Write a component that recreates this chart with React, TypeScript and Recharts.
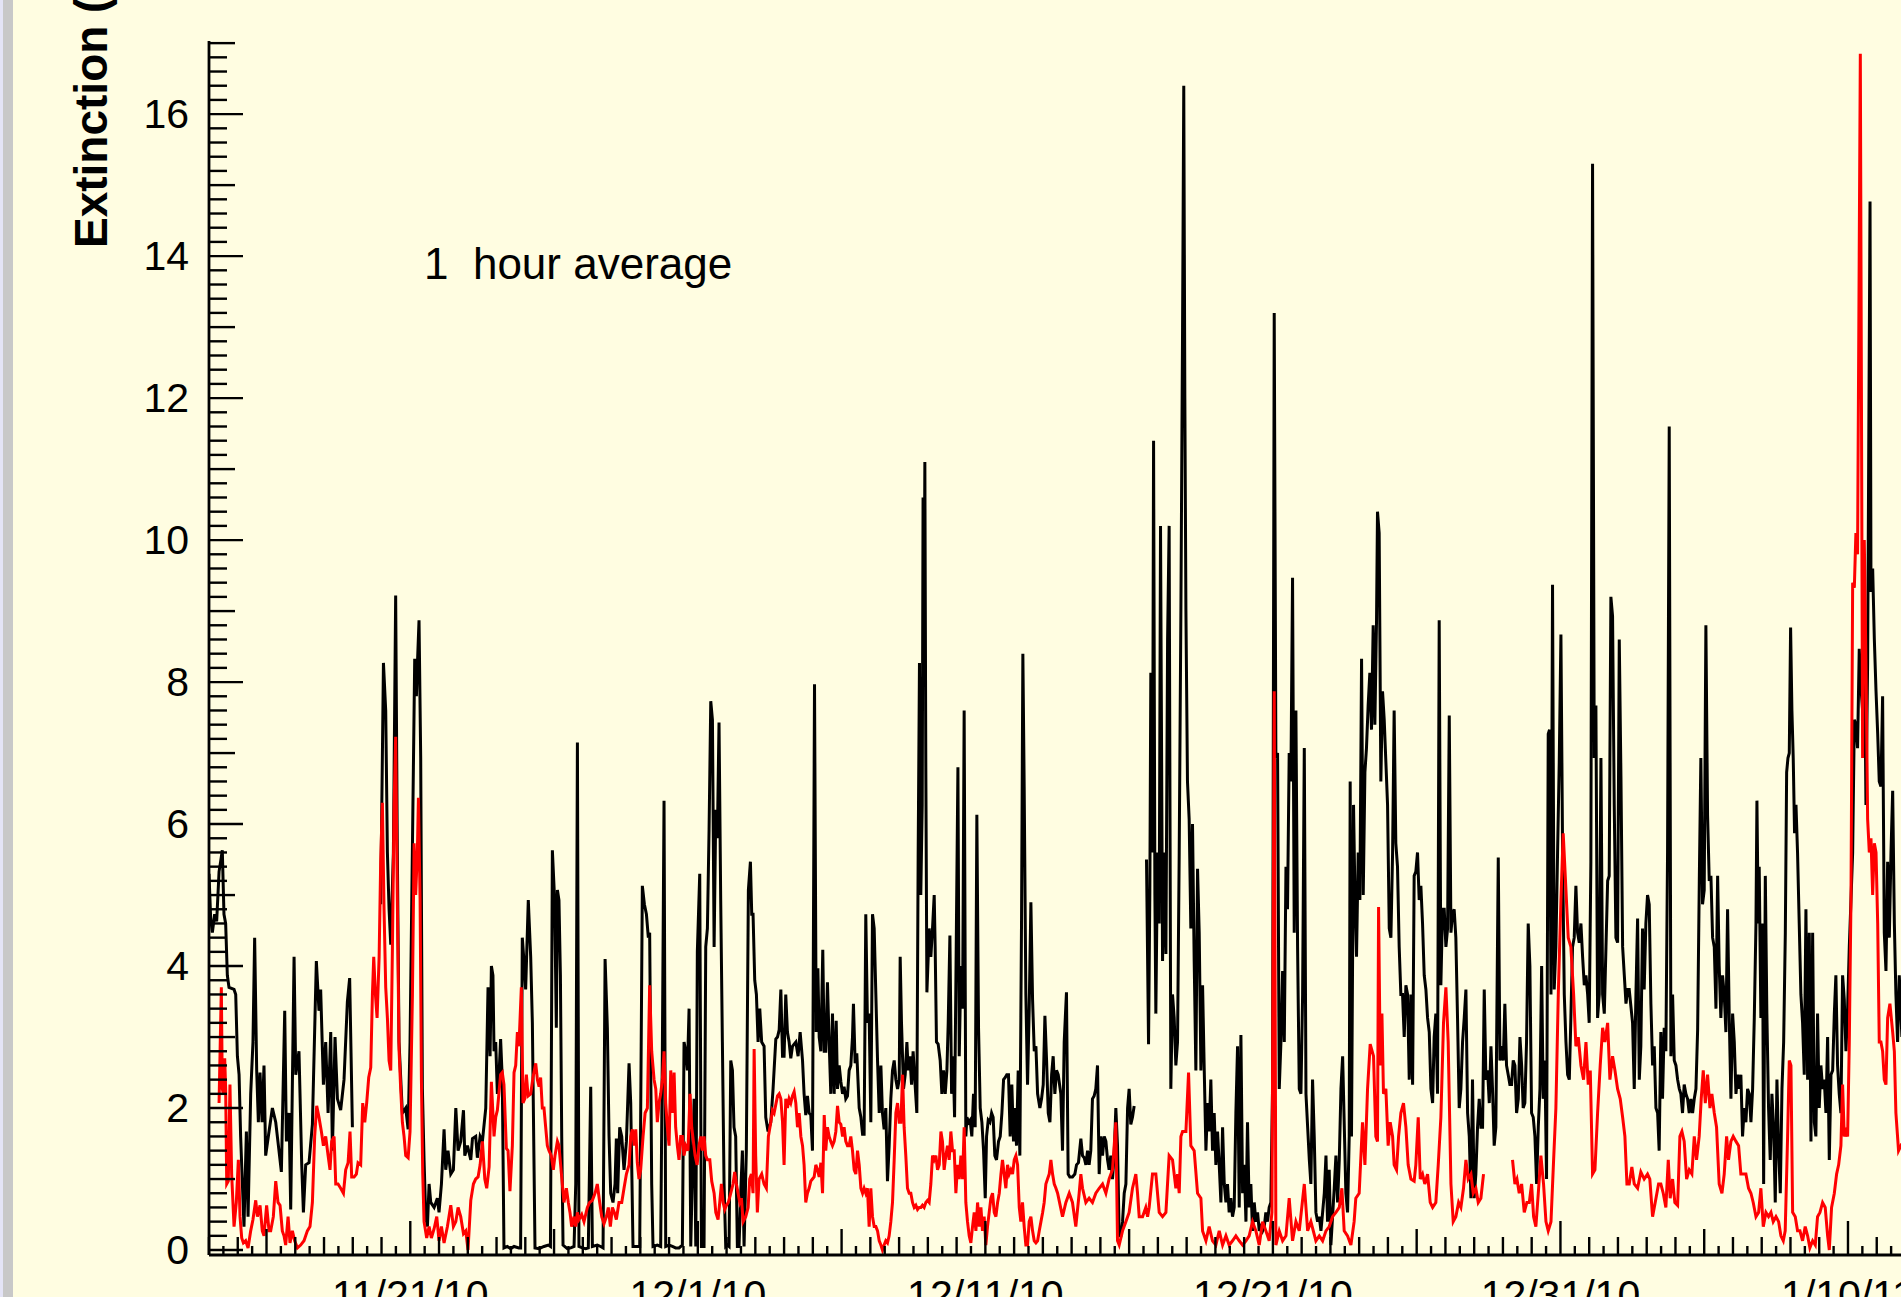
import { LineChart, Line, XAxis, YAxis } from 'recharts';

// hours since 11/14/10 00:00 -> extinction, 1 hour average (null = no data)
const blackReadings: [number, number | null][] = [
  [0, 5.3], [1.4, 4.67], [2.8, 4.47], [4.7, 4.73], [6.4, 4.63], [8.4, 5.33], [9.7, 5.47], [11.1, 5.63], [12.5, 4.73], [13.9, 4.6],
  [15.3, 3.87], [16.7, 3.7], [20.9, 3.67], [22.3, 3.6], [23.7, 2.73], [25.1, 2.47], [26.4, 1.6], [29.2, 0.33], [31.2, 1.67], [32.6, 0.47],
  [34.8, 2.2], [36.7, 2.93], [38.1, 4.4], [39.8, 2.53], [41.2, 1.8], [42.6, 2.5], [44.3, 1.8], [45.9, 2.6], [47.3, 1.33], [50.1, 1.67],
  [52.9, 2.0], [55.7, 1.8], [58.4, 1.4], [60.4, 1.1], [63.2, 3.37], [64.6, 1.53], [66.8, 1.93], [68.2, 0.57], [71.0, 4.13], [72.4, 2.47],
  [75.1, 2.8], [77.4, 1.2], [78.8, 0.53], [80.7, 1.2], [83.5, 1.23], [86.3, 1.77], [89.6, 4.07], [91.8, 3.37], [93.2, 3.67], [95.5, 2.33],
  [97.4, 2.93], [99.4, 1.93], [101.6, 3.07], [103.0, 1.4], [105.2, 3.0], [107.2, 2.13], [109.9, 1.97], [112.7, 2.4], [115.5, 3.5], [117.4, 3.83],
  [119.7, 1.73], [131, null],
  [143.3, 4.87], [145.6, 8.27], [147.5, 7.6], [148.9, 5.6], [150.3, 4.8], [151.7, 4.3], [153.9, 5.6], [155.8, 9.22], [157.2, 5.6], [158.6, 2.93],
  [161.4, 1.93], [164.2, 2.0], [166.2, 1.7], [167.8, 2.93], [170.6, 6.8], [171.7, 8.33], [173.1, 7.8], [174.0, 8.27], [175.3, 8.87], [176.7, 6.93],
  [178.1, 2.27], [179.5, 1.27], [180.9, 0.47], [182.3, 0.33], [183.7, 0.93], [185.1, 0.67], [187.9, 0.6], [190.6, 0.73], [192.0, 0.53], [194.0, 0.93],
  [196.2, 1.7], [197.6, 1.13], [199.5, 1.4], [201.8, 1.07], [204.0, 1.13], [206.0, 2.0], [207.9, 1.4], [210.1, 1.53], [212.4, 1.97], [213.5, 1.33],
  [215.7, 1.47], [218.5, 1.27], [219.9, 1.57], [222.6, 1.6], [224.0, 1.3], [226.3, 1.6], [228.2, 1.53], [231.0, 2.0], [232.9, 3.7], [234.6, 2.73],
  [235.7, 4.0], [237.0, 3.87], [237.9, 2.8], [239.3, 2.93], [240.7, 2.2], [242.1, 2.47], [243.4, 2.97], [244.8, 2.4], [246.2, 0.03], [249.0, 0.05],
  [251.8, 0.02], [254.6, 0.05], [258.7, 0.03], [260.1, 0.03], [261.5, 4.4], [262.9, 4.07], [264.3, 3.67], [266.5, 4.93], [268.5, 4.13], [269.9, 3.2],
  [272.1, 0.03], [275.5, 0.02], [279.6, 0.05], [283.2, 0.07], [285.0, 0.05], [286.6, 5.63], [288.5, 4.93], [289.9, 3.13], [290.8, 5.07], [292.1, 4.93],
  [293.3, 3.87], [294.4, 1.6], [295.5, 0.07], [299.1, 0.02], [301.9, 0.03], [304.7, 0.05], [306.1, 0.93], [307.5, 7.15], [308.8, 0.05], [311.6, 0.03],
  [314.4, 0.02], [316.6, 0.03], [318.6, 2.3], [320.0, 0.05], [324.1, 0.07], [326.9, 0.05], [328.9, 0.03], [330.6, 4.1], [332.5, 3.13], [333.9, 1.6],
  [335.3, 0.8], [337.2, 0.67], [338.9, 0.93], [340.0, 1.57], [341.1, 0.8], [342.8, 1.73], [344.5, 1.6], [346.4, 1.13], [348.4, 1.53], [350.6, 2.63],
  [352.0, 2.07], [353.9, 0.05], [356.2, 0.05], [359.5, 0.05], [361.7, 5.13], [363.4, 4.87], [365.1, 4.73], [366.7, 4.4], [367.8, 4.47], [369.5, 0.93],
  [370.6, 0.05], [374.2, 0.07], [377.0, 0.05], [378.4, 2.8], [379.8, 6.33], [381.2, 0.05], [384.0, 0.07], [386.8, 0.05], [389.5, 0.03], [392.3, 0.03],
  [395.1, 0.07], [396.5, 2.93], [397.9, 2.8], [399.3, 2.53], [400.7, 3.4], [402.1, 0.05], [404.9, 2.13], [406.3, 0.05], [407.6, 4.2], [409.6, 5.3],
  [411.0, 0.05], [413.2, 0.05], [414.6, 4.27], [416.0, 4.53], [417.4, 5.93], [418.8, 7.73], [420.2, 7.47], [421.6, 4.27], [423.0, 6.2], [424.3, 5.8],
  [425.7, 7.43], [427.1, 4.93], [428.5, 2.93], [429.9, 0.93], [431.3, 0.05], [432.7, 0.07], [434.1, 0.05], [435.5, 2.67], [436.9, 2.53], [438.2, 1.73],
  [439.6, 1.6], [441.0, 0.05], [442.4, 0.05], [443.8, 0.8], [445.2, 1.4], [446.6, 0.05], [448.5, 1.4], [450.2, 5.07], [451.9, 5.47], [453.0, 4.73],
  [454.1, 4.73], [455.5, 3.8], [456.9, 3.6], [458.3, 2.93], [459.7, 3.4], [461.3, 2.93], [463.3, 2.87], [464.7, 1.87], [466.6, 1.67], [468.9, 1.8],
  [470.8, 2.27], [473.1, 2.97], [474.5, 3.0], [475.9, 3.1], [477.3, 3.67], [478.7, 2.73], [480.0, 2.73], [481.4, 3.6], [482.8, 3.07], [484.2, 2.93],
  [485.6, 2.7], [487.0, 2.87], [488.4, 2.9], [489.8, 2.93], [491.7, 2.73], [493.4, 3.07], [495.4, 2.67], [496.7, 2.2], [498.1, 1.9], [499.5, 2.17],
  [500.9, 1.93], [502.3, 1.9], [503.7, 1.4], [505.4, 7.97], [506.8, 3.07], [508.2, 3.97], [509.3, 3.0], [510.7, 2.8], [512.3, 4.23], [513.5, 2.8],
  [514.8, 2.8], [516.2, 3.77], [517.6, 2.93], [519.0, 2.2], [520.4, 3.33], [521.8, 2.2], [523.5, 3.23], [524.6, 2.27], [526.0, 2.6], [527.4, 2.37],
  [528.8, 2.2], [530.1, 2.3], [531.5, 2.13], [532.9, 2.17], [534.3, 2.53], [535.7, 2.6], [537.1, 3.0], [537.9, 3.47], [539.3, 2.63], [540.7, 2.77],
  [542.7, 2.0], [544.1, 1.87], [545.5, 1.63], [546.8, 1.63], [548.2, 4.73], [549.6, 3.2], [551.0, 3.33], [552.4, 1.8], [553.8, 4.73], [555.2, 4.53],
  [556.6, 3.6], [558.0, 2.67], [559.4, 1.93], [560.8, 2.6], [562.1, 1.93], [563.5, 1.7], [564.9, 2.0], [566.3, 0.97], [567.7, 1.47], [569.1, 2.13],
  [570.5, 2.53], [571.9, 2.67], [573.3, 2.4], [574.7, 2.27], [576.1, 2.4], [576.9, 4.13], [578.0, 3.2], [579.7, 2.27], [581.1, 2.47], [582.5, 2.93],
  [583.6, 2.53], [585.0, 2.73], [586.4, 2.33], [587.7, 2.8], [589.1, 2.4], [590.8, 1.93], [591.9, 5.53], [593.0, 8.27], [594.1, 5.0], [595.3, 6.27],
  [596.0, 10.6], [596.7, 8.0], [597.5, 11.1], [598.3, 6.8], [599.2, 3.63], [600.3, 4.13], [601.1, 4.53], [602.5, 4.13], [603.9, 4.53], [605.3, 5.0],
  [606.1, 4.27], [607.2, 2.93], [608.6, 2.9], [610.3, 2.67], [611.7, 2.2], [613.1, 2.53], [614.5, 2.2], [615.9, 2.53], [617.0, 3.2], [618.4, 4.43],
  [619.8, 2.2], [621.1, 2.73], [622.3, 1.87], [623.6, 4.13], [625.1, 6.8], [626.2, 2.73], [627.6, 4.0], [629.0, 3.4], [630.3, 7.6], [631.7, 1.6],
  [632.6, 1.87], [634.0, 1.8], [635.3, 1.83], [636.7, 1.6], [638.1, 2.2], [639.5, 1.73], [640.9, 6.13], [642.3, 3.13], [643.7, 2.0], [645.1, 1.8],
  [646.5, 1.4], [647.9, 0.73], [649.0, 1.6], [650.4, 1.83], [651.8, 1.8], [653.2, 1.93], [654.5, 1.87], [655.9, 1.33], [657.3, 1.27], [659.0, 1.53],
  [660.4, 1.6], [661.8, 1.93], [663.2, 2.4], [664.6, 2.43], [665.9, 2.47], [667.3, 2.47], [668.7, 1.6], [670.1, 2.33], [671.5, 1.53], [672.6, 2.0],
  [674.0, 1.47], [675.4, 2.53], [676.8, 1.33], [678.2, 4.67], [679.3, 8.4], [680.4, 6.53], [681.8, 3.6], [683.2, 2.33], [684.6, 3.4], [686.0, 4.9],
  [687.4, 3.53], [688.8, 2.8], [690.2, 2.87], [691.6, 2.2], [693.5, 2.0], [694.9, 2.13], [696.3, 2.33], [697.7, 3.3], [699.1, 2.67], [700.5, 1.93],
  [701.9, 1.8], [703.3, 2.47], [704.6, 2.73], [706.0, 2.2], [707.4, 2.53], [708.8, 2.47], [711.0, 2.2], [712.4, 1.4], [713.8, 2.93], [715.7, 3.63],
  [717.1, 1.07], [718.5, 1.03], [720.7, 1.03], [722.7, 1.07], [724.1, 1.2], [725.7, 1.23], [727.7, 1.57], [729.1, 1.33], [730.5, 1.3], [731.9, 1.2],
  [733.3, 1.4], [734.6, 1.2], [736.0, 1.4], [737.4, 2.13], [738.8, 2.17], [740.2, 2.27], [741.6, 2.6], [743.0, 1.07], [744.4, 1.6], [745.8, 1.33],
  [747.2, 1.6], [748.6, 1.53], [750.0, 1.27], [751.3, 1.13], [752.7, 1.33], [754.1, 1.0], [755.5, 1.33], [756.9, 2.0], [758.3, 1.47], [759.7, 0.2],
  [761.1, 0.2], [762.5, 0.4], [763.9, 0.8], [765.3, 0.93], [766.7, 2.0], [768.0, 2.27], [769.4, 1.77], [770.8, 1.87], [772.2, 2.03], [777, null],
  [782.5, 5.5], [784.2, 2.9], [785.3, 5.07], [786.1, 8.13], [787.5, 5.6], [788.4, 11.4], [789.5, 5.0], [790.3, 3.33], [791.7, 5.6], [793.1, 4.6],
  [794.2, 10.2], [795.9, 4.07], [797.3, 5.6], [798.7, 4.17], [800.1, 8.6], [801.4, 10.2], [802.8, 2.27], [804.2, 3.6], [805.6, 3.27], [807.0, 2.6],
  [808.4, 2.93], [809.8, 5.6], [811.2, 9.0], [812.6, 13.0], [813.6, 16.4], [814.5, 12.0], [815.4, 9.0], [816.7, 6.6], [818.1, 6.07], [819.5, 4.53],
  [820.9, 6.0], [822.3, 4.07], [823.7, 2.53], [825.1, 5.37], [826.5, 4.47], [827.9, 2.53], [829.3, 3.73], [830.7, 2.53], [832.1, 1.4], [833.5, 2.07],
  [834.8, 1.67], [836.2, 2.4], [837.6, 1.4], [839.0, 1.93], [840.4, 1.2], [841.8, 1.67], [843.2, 1.2], [844.6, 0.67], [846.0, 1.73], [847.4, 0.93],
  [848.8, 0.67], [850.1, 0.93], [851.5, 0.53], [852.9, 0.73], [854.3, 0.47], [855.7, 0.6], [857.1, 1.93], [858.5, 2.87], [859.9, 0.6], [861.3, 3.03],
  [862.7, 0.8], [864.1, 1.2], [865.5, 0.4], [866.8, 1.8], [868.2, 0.6], [869.6, 0.93], [871.0, 0.27], [872.4, 0.67], [873.8, 0.4], [875.2, 0.53],
  [876.6, 0.27], [878.0, 0.33], [879.4, 0.27], [880.8, 0.33], [882.1, 0.53], [883.5, 0.4], [884.9, 0.6], [886.3, 0.67], [887.7, 2.27], [889.1, 13.2],
  [890.5, 6.93], [891.9, 7.0], [893.3, 2.27], [894.7, 2.93], [896.1, 3.93], [897.5, 2.93], [898.9, 5.4], [900.2, 4.8], [901.6, 7.0], [903.0, 6.6],
  [904.4, 9.47], [905.8, 4.47], [907.2, 7.6], [908.6, 4.27], [910.0, 2.27], [911.4, 2.2], [912.8, 3.6], [914.2, 7.07], [915.6, 2.2], [917.0, 1.73],
  [918.4, 1.27], [919.7, 0.93], [921.1, 2.4], [922.5, 1.6], [923.9, 0.53], [925.3, 0.4], [926.7, 0.47], [928.1, 0.27], [929.5, 0.53], [930.9, 0.8],
  [932.3, 1.33], [933.6, 0.4], [935.0, 1.13], [936.4, 0.07], [937.8, 0.47], [939.2, 0.87], [940.6, 1.33], [942.0, 0.67], [943.4, 1.27], [944.8, 2.27],
  [946.2, 2.73], [948.9, 0.8], [950.3, 0.53], [951.7, 1.6], [952.5, 6.6], [953.6, 1.6], [955.3, 6.27], [956.4, 5.07], [957.8, 4.13], [959.2, 5.6],
  [960.6, 4.93], [962.0, 8.33], [963.4, 5.0], [964.8, 6.73], [966.1, 7.07], [967.5, 7.67], [968.9, 8.13], [970.3, 7.33], [971.7, 8.8], [973.1, 7.4],
  [974.5, 8.87], [975.3, 10.4], [976.7, 10.1], [978.1, 6.6], [979.5, 7.87], [980.9, 7.47], [982.3, 6.87], [983.7, 6.27], [985.1, 4.53], [986.5, 4.4],
  [987.9, 5.6], [989.2, 7.6], [990.6, 5.73], [992.0, 5.4], [993.4, 4.27], [994.8, 3.6], [996.2, 3.6], [997.6, 3.0], [999.0, 3.73], [1000.4, 3.6],
  [1001.8, 2.4], [1003.2, 3.6], [1004.6, 2.33], [1005.9, 5.27], [1007.3, 5.33], [1008.7, 5.6], [1010.1, 4.93], [1011.5, 5.13], [1012.9, 4.6], [1014.3, 3.87],
  [1015.7, 3.67], [1017.1, 3.27], [1018.5, 3.07], [1019.9, 2.27], [1021.3, 2.07], [1022.6, 3.0], [1024.0, 3.33], [1025.4, 2.2], [1026.8, 8.87], [1028.2, 3.73],
  [1029.6, 4.8], [1031.0, 4.8], [1032.4, 4.27], [1033.8, 4.53], [1035.2, 7.53], [1036.6, 4.47], [1037.9, 4.73], [1039.3, 4.8], [1040.7, 4.4], [1042.1, 3.27],
  [1043.5, 2.0], [1044.9, 2.27], [1046.3, 2.93], [1047.7, 3.27], [1049.1, 3.67], [1050.5, 1.93], [1051.9, 1.6], [1053.3, 0.73], [1054.6, 2.4], [1056.0, 0.73],
  [1057.4, 1.07], [1058.8, 1.73], [1060.2, 2.13], [1061.6, 1.73], [1063.0, 1.73], [1064.4, 3.67], [1065.8, 2.4], [1067.2, 2.53], [1068.6, 2.07], [1070.0, 2.87],
  [1071.3, 2.27], [1072.7, 1.47], [1074.1, 1.73], [1076.1, 5.53], [1077.5, 2.67], [1078.9, 2.87], [1080.3, 2.67], [1081.6, 3.47], [1083.0, 2.6], [1084.4, 2.47],
  [1085.8, 2.33], [1087.2, 2.33], [1088.6, 2.67], [1090.0, 2.6], [1091.4, 1.93], [1092.8, 2.13], [1094.2, 3.0], [1095.6, 2.6], [1096.9, 2.0], [1098.3, 2.07],
  [1099.7, 2.93], [1101.1, 4.6], [1102.5, 4.0], [1103.9, 1.93], [1105.3, 1.87], [1106.7, 1.6], [1108.1, 0.93], [1109.5, 1.73], [1110.9, 2.27], [1112.3, 4.0],
  [1113.6, 2.13], [1115.0, 2.67], [1116.4, 1.0], [1117.8, 7.27], [1118.9, 7.33], [1120.1, 3.6], [1121.4, 9.37], [1122.8, 3.67], [1124.2, 4.27], [1125.6, 5.6],
  [1127.0, 6.87], [1128.4, 8.67], [1129.8, 5.6], [1131.2, 3.6], [1132.6, 2.93], [1134.0, 2.47], [1135.4, 2.4], [1136.7, 3.27], [1138.1, 4.27], [1139.5, 4.4],
  [1140.9, 5.13], [1142.3, 4.47], [1143.7, 4.33], [1145.1, 4.6], [1146.5, 4.13], [1147.9, 3.73], [1149.3, 3.87], [1150.7, 3.6], [1152.0, 3.2], [1153.4, 5.47],
  [1154.8, 15.3], [1156.2, 6.93], [1157.6, 7.67], [1159.0, 3.27], [1160.4, 3.6], [1161.8, 6.93], [1163.2, 3.6], [1164.6, 3.33], [1166.0, 4.27], [1167.4, 5.2],
  [1168.7, 5.27], [1170.1, 9.2], [1171.5, 8.93], [1172.9, 6.27], [1174.3, 4.4], [1175.7, 4.33], [1177.1, 8.6], [1178.5, 6.67], [1179.9, 4.27], [1181.3, 3.87],
  [1182.7, 3.47], [1184.1, 3.67], [1185.4, 3.67], [1188.2, 3.2], [1189.6, 2.27], [1191.0, 3.6], [1192.4, 4.67], [1193.8, 2.4], [1195.1, 2.87], [1196.5, 4.53],
  [1197.9, 3.67], [1199.3, 4.6], [1200.7, 5.0], [1202.1, 4.87], [1203.5, 3.47], [1204.9, 2.6], [1206.3, 2.87], [1207.7, 2.0], [1209.1, 1.93], [1210.4, 1.4],
  [1211.8, 3.07], [1213.2, 2.13], [1214.6, 3.13], [1216.0, 2.8], [1217.4, 5.6], [1218.8, 11.6], [1220.2, 2.73], [1221.6, 3.6], [1223.0, 2.67], [1224.4, 2.6],
  [1225.8, 2.4], [1227.2, 2.27], [1228.5, 2.2], [1229.9, 1.93], [1231.3, 2.33], [1232.7, 2.2], [1234.1, 2.13], [1235.5, 1.93], [1236.9, 2.13], [1238.3, 1.93],
  [1239.7, 2.13], [1241.1, 2.27], [1242.5, 3.1], [1243.9, 5.2], [1245.2, 6.93], [1246.6, 4.87], [1248.0, 5.07], [1249.4, 8.8], [1250.8, 6.13], [1252.2, 5.2],
  [1253.6, 5.27], [1255.0, 4.4], [1256.4, 4.27], [1257.8, 3.4], [1259.2, 5.27], [1260.5, 4.0], [1261.9, 3.27], [1263.3, 3.87], [1264.7, 3.6], [1266.1, 3.07],
  [1267.5, 4.8], [1268.9, 3.27], [1270.3, 2.13], [1271.7, 3.33], [1273.1, 2.93], [1274.5, 2.2], [1275.9, 2.47], [1277.2, 2.27], [1278.6, 2.47], [1280.0, 1.6],
  [1281.4, 2.0], [1282.8, 1.8], [1284.2, 2.27], [1285.6, 2.2], [1287.0, 1.8], [1288.4, 2.27], [1289.8, 3.27], [1291.2, 4.6], [1292.0, 6.33], [1293.1, 4.6],
  [1293.9, 5.4], [1295.3, 3.27], [1296.7, 4.6], [1297.6, 0.93], [1299.0, 5.27], [1300.3, 3.33], [1301.7, 2.0], [1303.1, 1.27], [1304.5, 2.2], [1305.9, 1.73],
  [1307.3, 0.67], [1308.7, 2.4], [1310.1, 1.4], [1311.5, 0.8], [1312.9, 2.27], [1314.3, 2.93], [1315.7, 4.47], [1316.8, 6.73], [1317.9, 6.93], [1319.0, 7.0],
  [1320.1, 8.77], [1321.2, 7.6], [1322.3, 6.93], [1323.4, 5.87], [1324.6, 6.27], [1325.9, 5.6], [1327.3, 4.6], [1328.7, 3.6], [1330.1, 3.2], [1331.5, 2.47],
  [1332.9, 4.8], [1334.3, 2.4], [1335.7, 4.47], [1337.1, 1.53], [1338.5, 4.47], [1339.9, 1.8], [1341.2, 1.6], [1342.6, 3.33], [1344.0, 2.0], [1345.4, 2.6],
  [1346.8, 2.27], [1348.2, 2.4], [1349.6, 1.93], [1351.0, 3.0], [1352.4, 1.27], [1353.8, 2.47], [1355.2, 2.53], [1356.6, 3.33], [1357.9, 3.87], [1359.3, 2.6],
  [1360.7, 2.2], [1362.1, 1.93], [1363.5, 3.87], [1364.9, 3.53], [1366.3, 2.8], [1367.7, 3.4], [1369.1, 4.27], [1370.5, 4.93], [1371.9, 5.6], [1373.3, 7.47],
  [1374.6, 7.4], [1376.0, 7.07], [1377.4, 8.47], [1378.8, 7.93], [1380.2, 7.6], [1381.6, 8.93], [1383.0, 6.27], [1384.4, 8.27], [1386.4, 14.77], [1387.2, 9.27],
  [1388.6, 9.6], [1390.0, 8.6], [1391.4, 7.87], [1392.8, 7.27], [1394.1, 6.6], [1395.5, 6.53], [1396.9, 7.8], [1398.3, 4.47], [1399.7, 3.93], [1401.1, 5.47],
  [1402.5, 4.4], [1403.9, 5.6], [1405.3, 6.47], [1406.7, 4.6], [1408.0, 3.6], [1409.4, 2.93], [1410.8, 3.87], [1413.0, 3.0],
];

const redReadings: [number, number | null][] = [
  [8.4, 2.07], [10.3, 3.7], [11.1, 2.27], [12.0, 2.2], [13.1, 2.7], [13.9, 2.27], [14.8, 0.93], [16.1, 0.97], [17.5, 2.33], [18.9, 1.07],
  [20.9, 0.33], [22.8, 0.67], [24.5, 1.27], [25.9, 0.47], [27.3, 0.17], [28.7, 0.1], [30.6, 0.13], [32.6, 0.03], [34.8, 0.27], [36.7, 0.43],
  [39.0, 0.7], [40.4, 0.47], [42.6, 0.63], [44.5, 0.27], [45.9, 0.2], [48.1, 0.63], [50.1, 0.27], [51.5, 0.27], [53.7, 0.47], [55.7, 0.97],
  [57.6, 0.67], [59.3, 0.63], [61.2, 0.27], [62.6, 0.2], [64.0, 0.07], [66.0, 0.47], [67.6, 0.1], [69.6, 0.27], [71.5, 0.13], [73.8, 0.03],
  [76.5, 0.07], [79.3, 0.13], [82.1, 0.27], [84.3, 0.33], [86.3, 0.67], [88.2, 1.6], [89.9, 2.03], [91.8, 1.87], [93.8, 1.67], [95.5, 1.47],
  [97.4, 1.6], [99.4, 1.33], [101.0, 1.13], [102.4, 1.53], [104.4, 1.6], [105.8, 0.93], [107.7, 0.93], [109.9, 0.87], [112.2, 0.8], [114.1, 1.13],
  [116.1, 1.23], [117.7, 1.67], [119.1, 1.03], [121.1, 1.03], [123.0, 1.07], [124.4, 1.23], [126.6, 1.2], [128.3, 2.07], [130.0, 1.8], [131.6, 2.07],
  [133.3, 2.43], [135.0, 2.57], [136.4, 3.6], [137.5, 4.13], [138.9, 3.6], [140.3, 3.27], [142.0, 4.13], [143.3, 5.47], [144.7, 6.3], [146.1, 4.8],
  [147.5, 3.7], [148.9, 3.27], [150.3, 2.67], [151.7, 2.53], [153.1, 4.27], [154.5, 6.27], [155.8, 7.23], [157.2, 4.93], [158.6, 2.83], [160.0, 2.27],
  [161.4, 1.8], [162.8, 1.6], [164.2, 1.33], [166.2, 1.3], [167.8, 1.67], [169.8, 3.6], [171.2, 5.73], [172.5, 5.0], [173.9, 5.6], [174.8, 6.37],
  [176.2, 4.93], [177.3, 2.4], [178.4, 1.07], [179.5, 0.4], [181.7, 0.17], [183.7, 0.33], [185.6, 0.17], [187.9, 0.3], [190.1, 0.47], [192.0, 0.13],
  [194.0, 0.33], [196.2, 0.1], [199.0, 0.33], [201.8, 0.63], [204.0, 0.33], [206.0, 0.4], [207.9, 0.6], [210.1, 0.47], [212.4, 0.23], [214.3, 0.27],
  [216.2, 0.0], [218.5, 0.7], [220.7, 0.93], [222.6, 1.0], [224.6, 1.03], [226.3, 1.2], [228.2, 1.53], [230.2, 1.0], [231.8, 0.87], [233.8, 1.17],
  [235.7, 2.37], [237.9, 1.6], [239.3, 1.87], [240.7, 1.97], [243.4, 2.47], [244.8, 2.5], [246.2, 2.33], [248.2, 1.43], [249.6, 1.4], [251.2, 0.83],
  [253.2, 1.47], [254.6, 2.5], [256.0, 2.6], [257.4, 3.07], [258.7, 2.87], [260.7, 3.7], [262.1, 2.07], [263.5, 2.13], [264.9, 2.47], [266.3, 2.17],
  [268.5, 2.2], [270.4, 2.43], [272.7, 2.63], [274.1, 2.4], [275.5, 2.3], [276.8, 2.43], [278.2, 2.0], [279.6, 2.0], [281.0, 1.73], [282.4, 1.47],
  [283.8, 1.4], [285.7, 1.33], [287.4, 1.13], [288.8, 1.33], [290.8, 1.53], [292.1, 1.47], [293.5, 1.2], [294.9, 0.93], [296.3, 0.67], [298.3, 0.87],
  [299.9, 0.67], [301.3, 0.53], [302.7, 0.33], [304.7, 0.47], [306.1, 0.33], [307.5, 0.53], [308.8, 0.43], [311.1, 0.5], [313.0, 0.4], [315.8, 0.6],
  [317.7, 0.67], [320.0, 0.7], [322.2, 0.8], [324.1, 0.93], [326.1, 0.67], [327.8, 0.47], [329.7, 0.37], [331.7, 0.47], [333.3, 0.6], [335.0, 0.33],
  [336.7, 0.6], [338.3, 0.53], [340.0, 0.43], [342.2, 0.67], [344.5, 0.67], [346.4, 0.87], [348.4, 1.07], [350.6, 1.2], [352.0, 1.6], [353.4, 1.7],
  [355.0, 1.47], [356.2, 1.7], [357.5, 1.23], [358.9, 1.0], [360.3, 1.13], [362.3, 1.6], [364.0, 1.93], [365.9, 2.0], [367.8, 3.73], [369.5, 2.8],
  [371.5, 2.4], [372.9, 2.27], [374.2, 1.8], [375.6, 2.07], [377.0, 2.2], [378.4, 2.4], [379.8, 2.8], [381.2, 2.07], [382.6, 1.73], [384.0, 1.47],
  [385.4, 2.53], [386.8, 1.93], [388.2, 2.5], [389.5, 1.73], [390.9, 1.47], [392.3, 1.27], [393.7, 1.6], [395.1, 1.6], [396.5, 1.33], [397.9, 1.47],
  [399.8, 1.4], [401.5, 2.2], [402.9, 1.73], [404.3, 1.53], [405.7, 1.33], [407.4, 1.2], [409.0, 1.47], [410.4, 1.6], [411.8, 1.4], [413.2, 1.6],
  [414.6, 1.33], [416.0, 1.27], [418.0, 1.27], [419.6, 0.97], [421.6, 0.8], [423.0, 0.53], [424.9, 0.43], [426.3, 0.67], [427.7, 0.93], [429.1, 0.67],
  [430.5, 0.57], [431.9, 0.63], [433.5, 0.67], [435.5, 0.8], [437.4, 0.93], [438.8, 1.1], [440.2, 0.93], [441.6, 0.8], [443.0, 0.67], [444.4, 0.73],
  [445.8, 0.4], [448.0, 0.47], [450.0, 0.6], [451.3, 1.0], [452.7, 1.07], [454.1, 0.8], [455.0, 2.83], [456.3, 1.33], [457.7, 0.53], [459.1, 1.0],
  [461.3, 1.07], [463.3, 0.93], [465.2, 0.87], [466.9, 1.6], [468.9, 1.8], [470.3, 1.97], [471.7, 1.93], [474.5, 2.17], [475.9, 2.2], [477.3, 2.13],
  [478.7, 1.8], [480.0, 1.2], [481.4, 2.13], [482.8, 2.0], [484.2, 2.13], [485.6, 2.07], [487.0, 2.17], [488.4, 2.23], [489.8, 2.07], [491.2, 1.73],
  [492.6, 1.93], [494.0, 1.6], [495.4, 1.47], [496.7, 1.2], [498.1, 0.67], [499.5, 0.8], [500.9, 0.87], [502.3, 0.97], [503.7, 1.0], [505.1, 1.03],
  [506.5, 1.2], [507.9, 1.13], [509.3, 1.03], [510.7, 1.23], [512.1, 0.8], [513.5, 1.9], [514.8, 1.4], [516.2, 1.73], [517.6, 1.6], [519.0, 1.53],
  [520.4, 1.47], [521.8, 1.53], [523.2, 1.67], [524.6, 2.03], [526.0, 1.8], [527.4, 1.77], [528.8, 1.6], [530.1, 1.73], [531.5, 1.53], [532.9, 1.47],
  [534.3, 1.47], [535.7, 1.6], [537.1, 1.4], [538.5, 1.13], [539.9, 1.07], [541.3, 1.4], [542.7, 1.2], [544.1, 0.87], [545.5, 0.8], [546.8, 0.87],
  [548.2, 0.8], [549.6, 0.87], [551.0, 0.33], [552.4, 0.87], [553.8, 0.47], [555.2, 0.33], [556.6, 0.33], [558.0, 0.27], [559.4, 0.13], [560.8, 0.07],
  [562.1, 0.0], [563.5, 0.07], [564.9, 0.13], [566.3, 0.1], [567.7, 0.2], [569.1, 0.4], [570.5, 0.67], [571.9, 1.27], [573.3, 1.93], [574.7, 2.07],
  [576.1, 1.8], [577.5, 1.8], [578.9, 2.47], [580.2, 1.73], [581.6, 1.33], [583.0, 0.87], [584.4, 0.8], [585.8, 0.8], [587.2, 0.67], [588.6, 0.6],
  [590.0, 0.63], [591.4, 0.57], [592.8, 0.6], [594.2, 0.6], [595.5, 0.63], [596.9, 0.6], [598.3, 0.67], [599.7, 0.7], [601.1, 0.67], [602.5, 0.93],
  [603.9, 1.33], [605.3, 1.27], [606.7, 1.33], [608.1, 1.13], [609.5, 1.2], [610.9, 1.67], [612.2, 1.53], [613.6, 1.13], [615.0, 1.33], [616.4, 1.47],
  [617.8, 1.27], [619.2, 1.67], [620.6, 1.4], [622.0, 1.4], [623.4, 0.8], [624.8, 1.2], [626.2, 1.0], [627.6, 1.33], [629.0, 1.0], [630.3, 1.73],
  [631.7, 0.67], [633.1, 0.4], [634.5, 0.2], [635.9, 0.1], [637.3, 0.33], [638.7, 0.53], [640.1, 0.27], [641.5, 0.67], [642.9, 0.33], [644.3, 0.6],
  [645.6, 0.27], [647.0, 0.47], [648.4, 0.07], [649.8, 0.33], [651.2, 0.53], [652.6, 0.73], [654.0, 0.8], [655.4, 0.53], [656.8, 0.47], [658.2, 0.67],
  [659.6, 0.8], [661.0, 1.07], [662.3, 1.27], [663.7, 1.07], [665.1, 0.87], [666.5, 1.2], [667.9, 1.07], [669.3, 1.13], [670.7, 1.07], [672.1, 1.27],
  [673.5, 1.33], [674.9, 1.2], [676.3, 0.6], [677.6, 0.4], [679.0, 0.67], [680.4, 0.33], [681.8, 0.07], [683.2, 0.07], [684.6, 0.4], [686.0, 0.47],
  [687.4, 0.27], [688.8, 0.13], [690.2, 0.1], [691.6, 0.13], [693.0, 0.27], [694.4, 0.4], [695.8, 0.53], [697.1, 0.67], [698.5, 0.93], [699.9, 1.0],
  [701.3, 1.07], [702.7, 1.27], [704.1, 1.07], [705.5, 0.93], [706.9, 0.87], [708.3, 0.8], [712.4, 0.47], [715.2, 0.67], [718.0, 0.8], [720.7, 0.67],
  [723.5, 0.33], [726.3, 0.8], [727.7, 1.07], [729.1, 0.87], [731.9, 0.67], [734.6, 0.73], [737.4, 0.67], [740.2, 0.8], [743.0, 0.87], [745.8, 0.93],
  [748.6, 0.8], [751.3, 1.0], [754.1, 1.13], [756.9, 1.8], [758.3, 0.13], [759.7, 0.07], [762.5, 0.27], [765.3, 0.4], [768.0, 0.53], [770.8, 0.87],
  [773.6, 1.07], [775.0, 0.8], [776.4, 0.47], [779.2, 0.47], [781.9, 0.6], [783.4, 0.47], [784.7, 0.6], [787.5, 1.07], [790.3, 1.07], [793.1, 0.53],
  [795.9, 0.47], [798.7, 0.53], [801.4, 1.33], [804.2, 1.27], [807.0, 0.87], [808.4, 1.07], [809.8, 0.8], [811.2, 1.6], [812.6, 1.67], [815.4, 1.67],
  [817.6, 2.5], [819.5, 1.47], [822.3, 1.4], [825.1, 0.8], [827.9, 0.73], [829.3, 0.27], [832.1, 0.13], [834.8, 0.33], [837.6, 0.13], [840.4, 0.07],
  [843.2, 0.27], [846.0, 0.07], [848.8, 0.2], [851.5, 0.07], [854.3, 0.13], [857.1, 0.2], [859.9, 0.13], [862.7, 0.07], [865.5, 0.13], [868.2, 0.2],
  [871.0, 0.4], [873.8, 0.27], [876.6, 0.07], [879.4, 0.4], [882.1, 0.27], [884.9, 0.13], [887.2, 0.53], [889.1, 7.87], [890.5, 0.07], [893.3, 0.27],
  [896.1, 0.13], [898.9, 0.2], [901.6, 0.73], [904.4, 0.13], [907.2, 0.4], [910.0, 0.27], [914.2, 0.93], [917.0, 0.27], [919.7, 0.4], [923.9, 0.13],
  [926.7, 0.2], [929.5, 0.13], [932.3, 0.27], [935.0, 0.33], [937.8, 0.47], [940.6, 0.53], [943.4, 0.6], [945.6, 0.87], [947.5, 0.27], [950.3, 0.2],
  [953.1, 0.07], [955.8, 0.4], [957.2, 0.73], [960.0, 0.8], [962.8, 1.8], [964.8, 1.2], [967.0, 2.27], [969.2, 2.9], [972.0, 2.73], [973.9, 1.6],
  [975.3, 1.53], [976.2, 4.83], [977.6, 2.6], [979.0, 3.33], [980.3, 2.2], [982.3, 2.27], [984.2, 1.47], [985.9, 1.8], [987.9, 1.6], [989.2, 1.2],
  [991.2, 1.13], [992.9, 1.6], [994.8, 1.93], [997.0, 2.07], [999.0, 1.73], [1000.9, 1.2], [1003.2, 1.0], [1005.9, 0.97], [1007.3, 1.2], [1009.3, 1.87],
  [1011.0, 1.0], [1012.9, 1.07], [1014.8, 0.93], [1017.1, 1.07], [1019.3, 0.67], [1021.3, 0.6], [1024.0, 0.67], [1026.0, 1.2], [1028.2, 1.87], [1030.4, 3.2],
  [1032.4, 3.7], [1034.3, 2.93], [1036.6, 0.93], [1038.5, 0.4], [1040.7, 0.47], [1043.0, 0.67], [1044.9, 0.6], [1047.1, 0.87], [1049.1, 1.27], [1051.0, 1.0],
  [1053.3, 1.07], [1055.2, 0.8], [1057.4, 0.87], [1059.4, 0.67], [1061.6, 0.73], [1063.8, 1.07], [1076, null], [1088.0, 1.27], [1090.0, 0.93], [1091.7, 1.0],
  [1093.6, 0.8], [1095.6, 0.93], [1097.8, 0.53], [1100.0, 0.67], [1102.0, 0.67], [1103.9, 0.93], [1105.6, 0.47], [1107.5, 0.33], [1109.5, 0.8], [1111.7, 1.33],
  [1113.9, 0.93], [1115.9, 0.4], [1117.8, 0.27], [1120.1, 0.4], [1122.3, 1.27], [1124.2, 2.0], [1126.2, 3.6], [1128.4, 4.93], [1130.3, 5.87], [1132.6, 5.07],
  [1134.5, 4.4], [1136.7, 4.27], [1139.0, 3.6], [1140.9, 2.87], [1142.9, 3.0], [1145.1, 2.6], [1147.3, 2.4], [1149.3, 2.93], [1151.2, 2.33], [1152.9, 2.53],
  [1154.8, 1.07], [1156.8, 1.13], [1159.0, 1.93], [1161.2, 2.6], [1163.2, 3.13], [1165.1, 2.93], [1167.4, 3.2], [1169.3, 2.4], [1171.5, 2.73], [1173.5, 2.53],
  [1175.7, 2.27], [1177.9, 2.13], [1179.9, 1.87], [1181.8, 1.6], [1183.5, 0.93], [1185.4, 0.93], [1187.6, 1.17], [1189.6, 0.93], [1192.4, 0.87], [1195.1, 1.1],
  [1197.9, 1.0], [1200.7, 1.07], [1202.6, 1.0], [1204.9, 0.47], [1207.1, 0.67], [1209.9, 0.93], [1211.8, 0.93], [1213.8, 0.8], [1216.0, 0.6], [1218.0, 1.27],
  [1219.6, 0.73], [1221.6, 1.0], [1223.5, 0.67], [1225.8, 0.63], [1227.7, 1.6], [1229.4, 1.67], [1231.3, 1.53], [1233.3, 1.0], [1235.5, 1.13], [1237.7, 1.07],
  [1239.7, 1.6], [1241.6, 1.27], [1243.8, 1.6], [1245.5, 2.13], [1247.2, 2.53], [1248.9, 2.07], [1250.8, 2.47], [1252.8, 2.0], [1254.4, 2.2], [1256.4, 1.93],
  [1258.3, 1.73], [1260.5, 0.93], [1262.8, 0.8], [1264.7, 1.07], [1266.7, 1.6], [1268.3, 1.27], [1270.3, 1.53], [1272.2, 1.6], [1274.5, 1.53], [1276.7, 1.47],
  [1278.6, 1.07], [1280.6, 1.07], [1282.8, 1.07], [1285.0, 0.87], [1287.0, 0.8], [1288.9, 0.67], [1291.2, 0.47], [1293.4, 0.53], [1295.3, 0.87], [1297.3, 0.33],
  [1299.5, 0.53], [1301.7, 0.47], [1303.7, 0.53], [1305.6, 0.4], [1307.9, 0.47], [1310.1, 0.4], [1312.0, 0.2], [1314.0, 0.13], [1315.6, 0.27], [1317.6, 1.6],
  [1319.0, 2.67], [1320.4, 2.6], [1321.8, 0.53], [1324.0, 0.47], [1325.9, 0.27], [1327.9, 0.27], [1330.1, 0.13], [1332.3, 0.33], [1334.3, 0.2], [1336.2, 0.03],
  [1338.5, 0.13], [1340.7, 0.07], [1342.6, 0.47], [1344.6, 0.53], [1346.8, 0.67], [1349.0, 0.6], [1351.0, 0.2], [1352.4, 0.0], [1354.3, 0.6], [1356.6, 0.8],
  [1358.5, 1.07], [1360.2, 1.2], [1362.1, 1.47], [1363.5, 2.33], [1364.9, 1.6], [1366.3, 1.67], [1367.7, 1.6], [1369.1, 2.93], [1370.5, 4.93], [1371.9, 9.4],
  [1373.3, 9.33], [1374.6, 10.1], [1376.0, 9.8], [1378.3, 16.85], [1380.2, 6.93], [1381.6, 10.0], [1383.0, 8.27], [1384.4, 6.07], [1385.8, 5.6], [1387.2, 5.8],
  [1388.6, 5.0], [1390.0, 5.73], [1391.4, 5.6], [1392.8, 4.6], [1394.1, 2.93], [1395.5, 2.93], [1396.9, 2.8], [1398.3, 2.4], [1399.7, 2.33], [1401.1, 3.27],
  [1403.0, 3.47], [1405.3, 3.07], [1406.7, 2.8], [1408.0, 1.93], [1410.2, 1.4], [1413.0, 1.5],
];

const xLabelHours = [168, 408, 648, 888, 1128, 1368];
const xLabels = ['11/21/10', '12/1/10', '12/11/10', '12/21/10', '12/31/10', '1/10/11'];
const yLabels = [0, 2, 4, 6, 8, 10, 12, 14, 16];

const FONT = '"Liberation Sans", Arial, Helvetica, sans-serif';
const BG = '#fffde1';

const blackData = blackReadings.map(([h, v]) => ({ h, v }));
const redData = redReadings.map(([h, v]) => ({ h, v }));

// half-day ticks on x, 0.2 steps on y
const xTicks: number[] = [];
for (let h = 0; h <= 1464; h += 12) xTicks.push(h);
const yTicks: number[] = [];
for (let i = 0; i <= 85; i++) yTicks.push(Math.round(i * 2) / 10);

function XTick({ x, y, payload }: any) {
  const h = payload.value as number;
  let len = 9;
  if ((h - 168) % 240 === 0) len = 34;
  else if ((h - 168) % 120 === 0) len = 26;
  else if (h % 24 === 0) len = 18;
  const idx = xLabelHours.indexOf(h);
  return (
    <g>
      <line x1={x} x2={x} y1={y} y2={y - len} stroke="#000" strokeWidth={2.4} />
      {idx >= 0 && (
        <text x={x} y={y + 54} textAnchor="middle" fontSize={41} fontFamily={FONT} fill="#000">
          {xLabels[idx]}
        </text>
      )}
    </g>
  );
}

function YTick({ x, y, payload }: any) {
  const v = payload.value as number;
  const isLabel = yLabels.includes(v);
  const isUnit = Math.abs(v - Math.round(v)) < 1e-6;
  const len = isLabel ? 34 : isUnit ? 26 : 18;
  return (
    <g>
      <line x1={x} x2={x + len} y1={y} y2={y} stroke="#000" strokeWidth={2.4} />
      {isLabel && (
        <text x={x - 20} y={y} textAnchor="end" dominantBaseline="central" fontSize={41} fontFamily={FONT} fill="#000">
          {v}
        </text>
      )}
    </g>
  );
}

export default function App() {
  return (
    <div style={{ position: 'fixed', left: 0, top: 0, width: 1901, height: 1297, overflow: 'hidden', background: BG }}>
      <div style={{ position: 'absolute', left: 0, top: 0, width: 3, height: 1297, background: '#e4e4f6' }} />
      <div style={{ position: 'absolute', left: 3, top: 0, width: 10, height: 1297, background: '#c8c8c8' }} />
      <div style={{ position: 'absolute', left: 0, top: 0 }}>
        <LineChart width={1963} height={1297} margin={{ top: 41, right: 0, bottom: 0, left: 0 }}>
          <XAxis
            type="number"
            dataKey="h"
            domain={[0, 1464]}
            ticks={xTicks}
            interval={0}
            allowDataOverflow
            height={42}
            tickSize={0}
            tickMargin={0}
            tickLine={false}
            tick={<XTick />}
            axisLine={{ stroke: '#000', strokeWidth: 2.8 }}
          />
          <YAxis
            type="number"
            domain={[-0.07, 17.03]}
            ticks={yTicks}
            interval={0}
            allowDataOverflow
            width={209}
            tickSize={0}
            tickMargin={0}
            tickLine={false}
            tick={<YTick />}
            axisLine={{ stroke: '#000', strokeWidth: 2.8 }}
          />
          <Line data={blackData} dataKey="v" type="linear" stroke="#000" strokeWidth={3} dot={false} isAnimationActive={false} connectNulls={false} />
          <Line data={redData} dataKey="v" type="linear" stroke="#ff0000" strokeWidth={3} dot={false} isAnimationActive={false} connectNulls={false} />
        </LineChart>
      </div>
      <svg width={1901} height={1297} style={{ position: 'absolute', left: 0, top: 0, pointerEvents: 'none' }}>
        <text transform="translate(107,248) rotate(-90)" fontSize={46} fontWeight="bold" fontFamily={FONT} fill="#000">
          Extinction (Mm⁻¹)
        </text>
        <text x={424} y={279} fontSize={44} fontFamily={FONT} fill="#000" style={{ whiteSpace: 'pre' }}>
          {'1  hour average'}
        </text>
      </svg>
    </div>
  );
}
